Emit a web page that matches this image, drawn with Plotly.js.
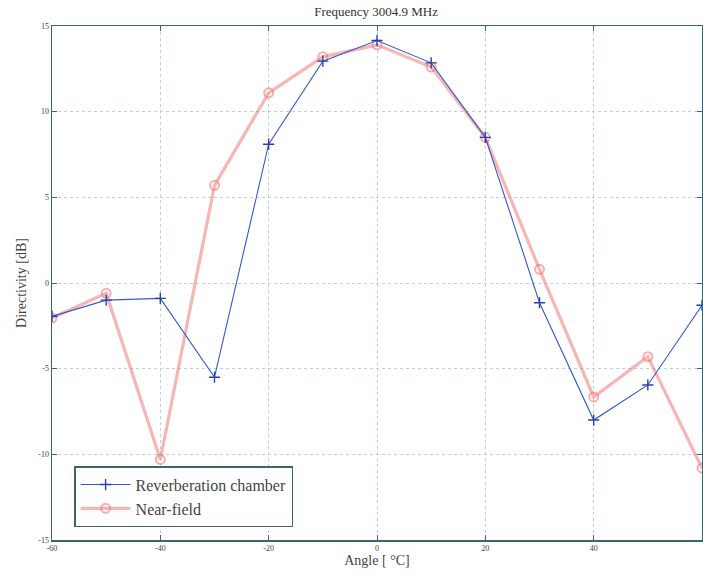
<!DOCTYPE html>
<html>
<head>
<meta charset="utf-8">
<script src="https://cdn.plot.ly/plotly-3.0.1.min.js"></script>
<style>html,body{margin:0;padding:0;background:#fff;}#chart{width:703px;height:574px;}</style>
</head>
<body>
<div id="chart"></div>
<script>
const angles = [-60, -50, -40, -30, -20, -10, 0, 10, 20, 30, 40, 50, 60];
const reverberation = [-1.95, -1.0, -0.9, -5.5, 8.1, 12.95, 14.15, 12.85, 8.5, -1.15, -8.0, -5.95, -1.3];
const nearField = [-2.05, -0.6, -10.3, 5.7, 11.1, 13.2, 13.9, 12.6, 8.5, 0.8, -6.65, -4.3, -10.8];
const xTicks = [-60, -40, -20, 0, 20, 40, 60];
const yTicks = [-15, -10, -5, 0, 5, 10, 15];

const serif = '"Liberation Serif", "DejaVu Serif", serif';
const axisColor = '#3d6470';
const gridColor = '#b8d0e0';

const traces = [
  {
    x: angles, y: nearField, name: 'Near-field', type: 'scatter', mode: 'lines+markers',
    legendrank: 2,
    line: {color: 'rgba(240,120,120,0.55)', width: 3.2},
    marker: {symbol: 'circle-open', size: 9, color: 'rgba(240,120,120,0.6)', line: {width: 2}}
  },
  {
    x: angles, y: reverberation, name: 'Reverberation chamber', type: 'scatter', mode: 'lines+markers',
    legendrank: 1,
    line: {color: '#3558d0', width: 1.1},
    marker: {symbol: 'cross-thin', size: 8, color: '#2a40b0', line: {width: 1.4, color: '#2a40b0'}}
  }
];

const layout = {
  width: 703, height: 574,
  margin: {l: 52, r: 1, t: 26, b: 34},
  paper_bgcolor: '#fff', plot_bgcolor: '#fff',
  font: {family: serif, color: '#333'},
  showlegend: true,
  title: {text: 'Frequency 3004.9 MHz', font: {family: serif, size: 13, color: '#333'}, x: 0.535, xanchor: 'center', y: 0.988, yanchor: 'top'},
  xaxis: {
    range: [-60, 60], tickvals: xTicks, ticktext: xTicks.map(String),
    ticks: 'inside', ticklen: 5, tickcolor: axisColor, mirror: 'ticks',
    showline: true, linecolor: axisColor, linewidth: 1.5,
    showgrid: true, gridcolor: gridColor, griddash: 'dot', gridwidth: 1,
    zeroline: false, tickfont: {family: serif, size: 8, color: '#444'},
    title: {text: 'Angle [ °C]', font: {family: serif, size: 14, color: '#444'}, standoff: 3}
  },
  yaxis: {
    range: [-15, 15], tickvals: yTicks, ticktext: yTicks.map(String),
    ticks: 'inside', ticklen: 5, tickcolor: axisColor, mirror: 'ticks',
    showline: true, linecolor: axisColor, linewidth: 1.5,
    showgrid: true, gridcolor: gridColor, griddash: 'dot', gridwidth: 1,
    zeroline: false, tickfont: {family: serif, size: 8, color: '#444'},
    title: {text: 'Directivity [dB]', font: {family: serif, size: 14, color: '#444'}, standoff: 8}
  },
  legend: {
    x: 0.034, y: 0.025, xanchor: 'left', yanchor: 'bottom',
    bgcolor: '#fff', bordercolor: axisColor, borderwidth: 1.5,
    font: {family: serif, size: 16, color: '#444'},
    traceorder: 'normal', itemwidth: 50, tracegroupgap: 0
  }
};

Plotly.newPlot('chart', traces, layout, {displayModeBar: false, staticPlot: true});
</script>
</body>
</html>
